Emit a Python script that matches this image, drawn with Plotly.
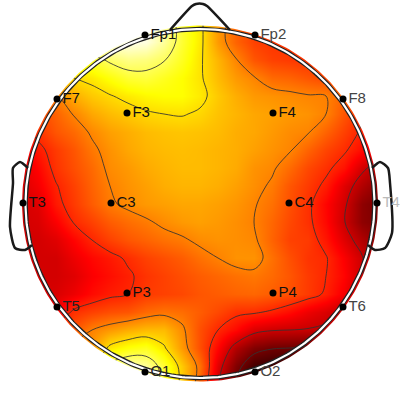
import numpy as np
import plotly.graph_objects as go

# grid positions in image pixels
grid_x = [20,38,56,74,92,110,128,146,164,182,200,218,236,254,272,290,308,326,344,362,380]
grid_y = [24,42,60,78,96,114,132,150,168,186,204,222,240,258,276,294,312,330,348,366,384]

# estimated potential field, one row per grid_y
r024 = [1.0,1.0,1.0,1.0,1.0,1.0,1.0,.97,.9,.8,.72,.6,.52,.47,.45,.45,.45,.45,.45,.45,.45]
r042 = [1.0,1.0,1.0,.98,.95,.98,.98,.97,.9,.8,.72,.6,.52,.47,.45,.45,.45,.45,.45,.45,.45]
r060 = [.75,.75,.75,.78,.8,.85,.88,.87,.84,.78,.71,.64,.57,.5,.47,.46,.45,.45,.45,.45,.45]
r078 = [.62,.65,.66,.7,.72,.76,.8,.81,.78,.75,.71,.65,.6,.57,.53,.52,.5,.48,.46,.45,.43]
r096 = [.5,.53,.56,.63,.67,.695,.72,.74,.75,.75,.72,.67,.63,.6,.59,.58,.57,.565,.52,.45,.4]
r114 = [.44,.48,.52,.57,.62,.65,.67,.69,.7,.705,.69,.66,.64,.62,.61,.6,.59,.565,.5,.44,.38]
r132 = [.4,.45,.5,.53,.575,.61,.63,.65,.66,.665,.66,.65,.63,.62,.6,.58,.57,.52,.47,.42,.36]
r150 = [.33,.41,.46,.5,.55,.59,.62,.64,.65,.655,.65,.64,.63,.61,.59,.57,.52,.475,.44,.39,.33]
r168 = [.33,.38,.45,.49,.53,.58,.6,.625,.64,.65,.65,.64,.625,.59,.575,.53,.48,.445,.4,.31,.26]
r186 = [.32,.36,.425,.47,.52,.565,.59,.61,.63,.64,.64,.63,.61,.585,.555,.5,.46,.415,.33,.26,.2]
r204 = [.31,.33,.41,.46,.51,.555,.58,.6,.61,.62,.62,.61,.595,.57,.54,.49,.445,.38,.31,.21,.17]
r222 = [.31,.32,.37,.435,.47,.51,.535,.555,.58,.6,.61,.6,.585,.565,.525,.48,.445,.385,.3,.21,.18]
r240 = [.31,.31,.33,.38,.43,.47,.5,.52,.54,.555,.58,.59,.585,.575,.52,.47,.46,.405,.33,.26,.2]
r258 = [.31,.31,.31,.35,.385,.41,.44,.47,.49,.51,.54,.565,.59,.59,.54,.49,.45,.435,.37,.3,.24]
r276 = [.31,.31,.31,.33,.37,.395,.42,.45,.47,.49,.51,.525,.54,.55,.53,.5,.46,.43,.38,.3,.24]
r294 = [.31,.31,.32,.35,.39,.415,.43,.46,.47,.48,.5,.51,.52,.525,.51,.49,.46,.42,.36,.28,.24]
r312 = [.31,.33,.36,.445,.47,.49,.5,.53,.545,.535,.51,.48,.445,.44,.42,.39,.35,.32,.28,.24,.22]
r330 = [.42,.46,.48,.5,.565,.6,.63,.65,.65,.58,.49,.43,.385,.32,.3,.295,.29,.28,.26,.24,.22]
r348 = [.55,.58,.58,.6,.6,.72,.76,.78,.71,.6,.49,.38,.26,.19,.165,.16,.15,.15,.15,.15,.15]
r366 = [.7,.7,.7,.7,.7,.85,.92,.9,.8,.67,.54,.33,.19,.1,.08,.08,.08,.08,.08,.08,.08]
r384 = [.75,.75,.75,.75,.75,.85,.9,.95,.8,.68,.52,.3,.15,.05,.05,.05,.05,.05,.05,.05,.05]
field = [r024,r042,r060,r078,r096,r114,r132,r150,r168,r186,r204,r222,r240,r258,r276,r294,r312,r330,r348,r366,r384]

hot = [[0,'#000000'],[.375,'#ff0000'],[.75,'#ffff00'],[1,'#ffffff']]
contour_start, contour_end, contour_step = .16, .84, .135

# electrodes
names = ['Fp1','Fp2','F7','F3','F4','F8','T3','C3','C4','T4','T5','P3','P4','T6','O1','O2']
el_x = [145,255,57,127,273,343,23,111,289,377,57,127,273,343,145,255]
el_y = [35,35,99,113,113,99,203,203,203,203,307,293,293,307,372,372]
label_colors = ['#111111','#444444','#111111','#111111','#111111','#444444','#111111','#111111',
                '#111111','#bbbbbb','#222222','#111111','#111111','#444444','#222222','#444444']

# head outline
cx, cy, ring_r, mask_r = 200, 203.5, 174.5, 178
th = np.linspace(0, 2*np.pi, 361)
ring_x = cx + ring_r*np.cos(th)
ring_y = cy + ring_r*np.sin(th)
mx = cx + mask_r*np.cos(th)
my = cy + mask_r*np.sin(th)
mask_x = [400,400,-5,-5,400,400] + list(mx)
mask_y = [cy,-5,-5,405,405,cy] + list(my)

nose_x = [170,192,196,203,207,230]
nose_y = [30,6,4,4,6,30]
ear_l_x = [28,20,13,13,10,15,25,32]
ear_l_y = [168,162,168,183,227,248,250,245]
ear_r_x = [372,380,388,390,392,385,375,368]
ear_r_y = [168,162,168,183,233,248,250,245]

fig = go.Figure()
fig.add_trace(go.Heatmap(x=grid_x, y=grid_y, z=field, colorscale=hot, zmin=0, zmax=1,
                         zsmooth='best', showscale=False, hoverinfo='skip'))
fig.add_trace(go.Contour(x=grid_x, y=grid_y, z=field,
                         contours=dict(coloring='none', start=contour_start, end=contour_end, size=contour_step),
                         line=dict(color='rgba(50,50,50,0.85)', width=1, smoothing=1.0),
                         showscale=False, hoverinfo='skip'))
fig.add_trace(go.Scatter(x=mask_x, y=mask_y, mode='lines', fill='toself', fillcolor='white',
                         line=dict(width=0), hoverinfo='skip'))
fig.add_trace(go.Scatter(x=ring_x, y=ring_y, mode='lines', line=dict(color='#222222', width=4.5), hoverinfo='skip'))
fig.add_trace(go.Scatter(x=ring_x, y=ring_y, mode='lines', line=dict(color='white', width=2.2), hoverinfo='skip'))
for xs, ys in [(nose_x, nose_y), (ear_l_x, ear_l_y), (ear_r_x, ear_r_y)]:
    fig.add_trace(go.Scatter(x=xs, y=ys, mode='lines',
                             line=dict(color='#1a1a1a', width=2.5, shape='spline', smoothing=0.6), hoverinfo='skip'))
fig.add_trace(go.Scatter(x=el_x, y=el_y, mode='markers+text', text=names, textposition='middle right',
                         marker=dict(color='black', size=7),
                         textfont=dict(family='Liberation Sans', size=15, color=label_colors),
                         cliponaxis=False, hoverinfo='skip'))
fig.update_layout(width=400, height=400, margin=dict(l=0, r=0, t=0, b=0), showlegend=False,
                  paper_bgcolor='white', plot_bgcolor='white',
                  xaxis=dict(range=[0,400], visible=False),
                  yaxis=dict(range=[400,0], visible=False))
fig.write_html("out.html", config=dict(displayModeBar=False),
               post_script="document.body.style.margin='0';document.documentElement.style.overflow='hidden';")
